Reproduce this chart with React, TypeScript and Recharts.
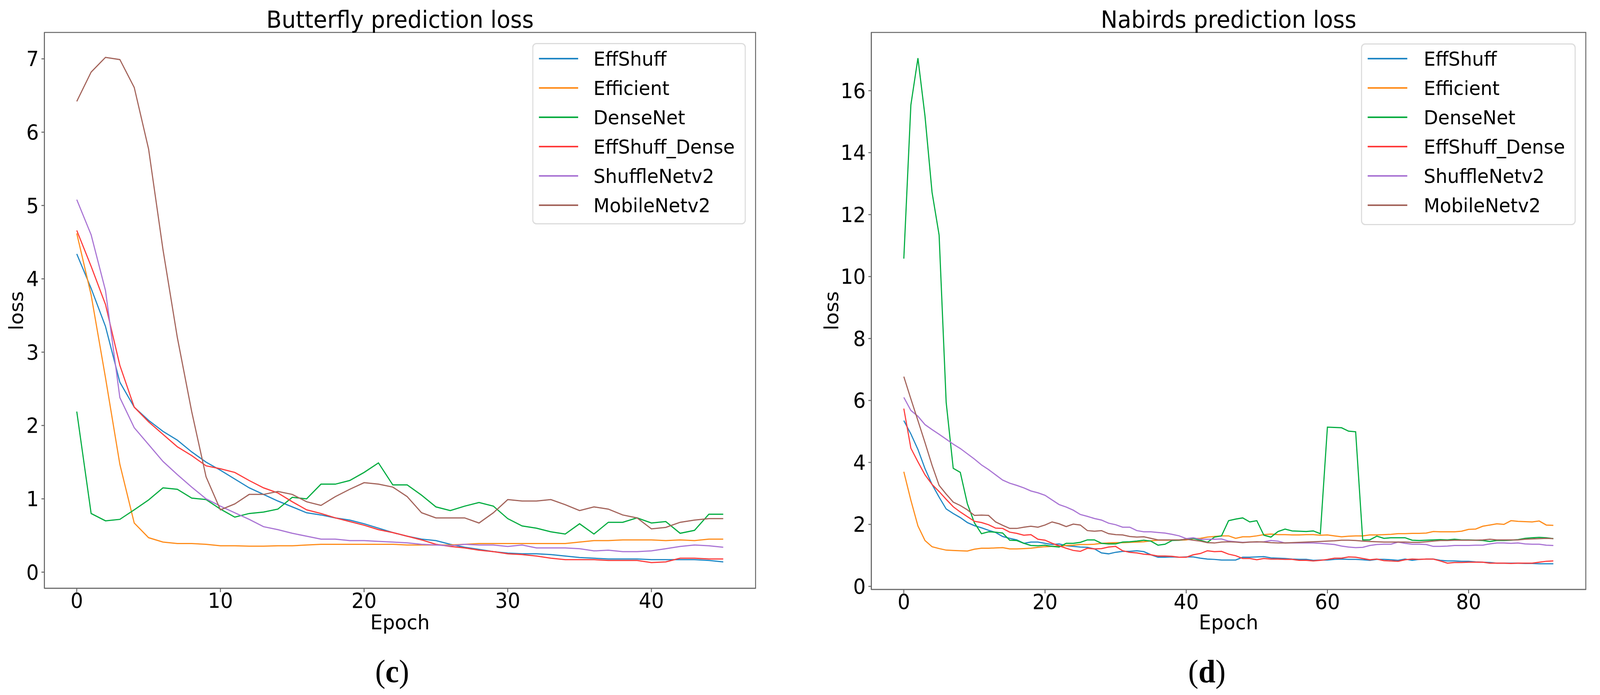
import React from "react";
import { LineChart, Line, XAxis, YAxis, Legend, ReferenceArea } from "recharts";

const seriesNames = ["EffShuff", "Efficient", "DenseNet", "EffShuff_Dense", "ShuffleNetv2", "MobileNetv2"];
const seriesColors = ["#1f86c4", "#ff8c1a", "#00ac3f", "#ff3b3b", "#a974d4", "#a3635a"];

// Butterfly, epochs 0..45
const bfEffShuff = [4.34, 3.87, 3.35, 2.59, 2.25, 2.07, 1.92, 1.8, 1.64, 1.5, 1.39, 1.27, 1.15, 1.06, 0.97, 0.89, 0.81, 0.78, 0.74, 0.71, 0.66, 0.6, 0.54, 0.49, 0.45, 0.43, 0.38, 0.34, 0.31, 0.28, 0.26, 0.25, 0.25, 0.24, 0.22, 0.2, 0.19, 0.18, 0.18, 0.18, 0.17, 0.17, 0.17, 0.17, 0.16, 0.14];
const bfEfficient = [4.62, 3.78, 2.65, 1.47, 0.67, 0.47, 0.41, 0.39, 0.39, 0.38, 0.36, 0.36, 0.355, 0.355, 0.36, 0.36, 0.37, 0.38, 0.38, 0.38, 0.38, 0.38, 0.38, 0.37, 0.37, 0.37, 0.37, 0.38, 0.39, 0.39, 0.39, 0.39, 0.39, 0.39, 0.39, 0.41, 0.43, 0.43, 0.44, 0.44, 0.44, 0.43, 0.44, 0.43, 0.45, 0.45];
const bfDenseNet = [2.19, 0.8, 0.7, 0.72, 0.85, 0.985, 1.15, 1.13, 1.01, 0.99, 0.86, 0.75, 0.8, 0.82, 0.86, 1.02, 1.0, 1.2, 1.2, 1.25, 1.36, 1.49, 1.19, 1.19, 1.05, 0.89, 0.84, 0.9, 0.95, 0.9, 0.73, 0.63, 0.6, 0.55, 0.52, 0.66, 0.52, 0.68, 0.68, 0.74, 0.67, 0.69, 0.53, 0.57, 0.79, 0.79];
const bfEffShuffDense = [4.66, 4.17, 3.65, 2.82, 2.25, 2.05, 1.88, 1.71, 1.59, 1.45, 1.41, 1.36, 1.25, 1.15, 1.08, 0.96, 0.85, 0.8, 0.74, 0.69, 0.64, 0.58, 0.54, 0.49, 0.44, 0.38, 0.35, 0.33, 0.3, 0.28, 0.25, 0.24, 0.22, 0.19, 0.17, 0.17, 0.17, 0.16, 0.16, 0.16, 0.13, 0.14, 0.19, 0.19, 0.18, 0.18];
const bfShuffleNet = [5.08, 4.6, 3.84, 2.38, 1.97, 1.74, 1.51, 1.33, 1.16, 1.0, 0.9, 0.81, 0.72, 0.62, 0.58, 0.53, 0.49, 0.45, 0.45, 0.43, 0.43, 0.42, 0.41, 0.4, 0.38, 0.37, 0.36, 0.38, 0.37, 0.37, 0.35, 0.37, 0.33, 0.33, 0.33, 0.32, 0.29, 0.3, 0.28, 0.28, 0.29, 0.32, 0.35, 0.37, 0.36, 0.34];
const bfMobileNet = [6.42, 6.82, 7.02, 6.99, 6.61, 5.77, 4.4, 3.2, 2.19, 1.3, 0.85, 0.93, 1.06, 1.06, 1.1, 1.06, 0.96, 0.91, 1.03, 1.13, 1.22, 1.2, 1.16, 1.03, 0.81, 0.74, 0.74, 0.74, 0.67, 0.81, 0.99, 0.97, 0.97, 0.99, 0.92, 0.84, 0.89, 0.86, 0.78, 0.74, 0.59, 0.61, 0.68, 0.71, 0.73, 0.73];

// Nabirds, epochs 0..92
const nbEffShuff = [
  5.35, 4.92, 4.42, 3.8, 3.29, 2.88, 2.5, 2.35, 2.22, 2.06,
  1.96, 1.89, 1.81, 1.74, 1.61, 1.55, 1.5, 1.39, 1.43, 1.43,
  1.39, 1.35, 1.37, 1.31, 1.29, 1.27, 1.26, 1.21, 1.08, 1.05,
  1.1, 1.13, 1.13, 1.15, 1.12, 1.02, 0.94, 0.94, 0.95, 0.94,
  0.95, 0.95, 0.91, 0.88, 0.87, 0.85, 0.85, 0.85, 0.94, 0.94,
  0.95, 0.96, 0.92, 0.91, 0.9, 0.88, 0.87, 0.87, 0.84, 0.85,
  0.85, 0.87, 0.88, 0.87, 0.87, 0.86, 0.84, 0.87, 0.87, 0.86,
  0.84, 0.88, 0.84, 0.87, 0.88, 0.88, 0.84, 0.82, 0.82, 0.81,
  0.81, 0.79, 0.78, 0.77, 0.75, 0.75, 0.75, 0.75, 0.74, 0.74,
  0.73, 0.73, 0.73,
];
const nbEfficient = [
  3.7, 2.78, 1.95, 1.48, 1.28, 1.22, 1.17, 1.16, 1.15, 1.14,
  1.2, 1.23, 1.23, 1.24, 1.25, 1.21, 1.21, 1.22, 1.23, 1.26,
  1.28, 1.29, 1.3, 1.32, 1.33, 1.35, 1.35, 1.36, 1.39, 1.4,
  1.41, 1.41, 1.42, 1.43, 1.44, 1.47, 1.49, 1.49, 1.49, 1.49,
  1.5, 1.54, 1.55, 1.59, 1.61, 1.63, 1.63, 1.55, 1.6, 1.6,
  1.63, 1.67, 1.69, 1.67, 1.67, 1.66, 1.66, 1.67, 1.67, 1.65,
  1.66, 1.63, 1.6, 1.62, 1.63, 1.63, 1.66, 1.66, 1.67, 1.68,
  1.7, 1.7, 1.71, 1.71, 1.72, 1.77, 1.76, 1.76, 1.76, 1.78,
  1.84, 1.85, 1.94, 1.98, 2.02, 2.0, 2.12, 2.1, 2.09, 2.08,
  2.11, 1.98, 1.97,
];
const nbDenseNet = [
  10.58, 15.54, 17.05, 15.18, 12.72, 11.34, 5.94, 3.81, 3.68, 2.67,
  2.05, 1.7, 1.76, 1.75, 1.72, 1.49, 1.48, 1.39, 1.32, 1.31,
  1.33, 1.29, 1.27, 1.39, 1.39, 1.42, 1.5, 1.5, 1.39, 1.37,
  1.37, 1.43, 1.44, 1.46, 1.49, 1.46, 1.33, 1.36, 1.48, 1.49,
  1.52, 1.55, 1.49, 1.42, 1.59, 1.63, 2.12, 2.17, 2.21, 2.08,
  2.12, 1.65, 1.59, 1.77, 1.85, 1.79, 1.78, 1.77, 1.79, 1.7,
  5.14, 5.13, 5.12, 5.01, 4.99, 1.5, 1.5, 1.62, 1.55, 1.57,
  1.57, 1.57, 1.49, 1.48, 1.49, 1.5, 1.51, 1.5, 1.52, 1.5,
  1.5, 1.49, 1.48, 1.45, 1.48, 1.48, 1.49, 1.51, 1.55, 1.57,
  1.58, 1.57, 1.54,
];
const nbEffShuffDense = [
  5.74, 4.46, 4.02, 3.6, 3.29, 3.06, 2.81, 2.57, 2.4, 2.25,
  2.1, 2.06, 1.99, 1.88, 1.87, 1.75, 1.71, 1.65, 1.67, 1.52,
  1.49, 1.39, 1.31, 1.23, 1.16, 1.13, 1.23, 1.21, 1.22, 1.27,
  1.29, 1.15, 1.1, 1.08, 1.04, 1.02, 0.98, 0.98, 0.97, 0.94,
  0.94, 1.02, 1.06, 1.15, 1.12, 1.13, 1.04, 0.99, 0.9, 0.9,
  0.86, 0.9, 0.88, 0.88, 0.87, 0.87, 0.84, 0.84, 0.82, 0.84,
  0.87, 0.91, 0.91, 0.95, 0.94, 0.9, 0.86, 0.88, 0.83, 0.82,
  0.81, 0.86, 0.88, 0.87, 0.88, 0.88, 0.82, 0.75, 0.77, 0.77,
  0.78, 0.78, 0.78, 0.75, 0.75, 0.75, 0.74, 0.75, 0.75, 0.75,
  0.78, 0.81, 0.82,
];
const nbShuffleNet = [
  6.1, 5.68, 5.49, 5.22, 5.06, 4.91, 4.75, 4.59, 4.45, 4.28,
  4.11, 3.92, 3.77, 3.6, 3.43, 3.33, 3.26, 3.18, 3.08, 3.02,
  2.94, 2.79, 2.64, 2.56, 2.46, 2.32, 2.26, 2.19, 2.14, 2.04,
  1.99, 1.91, 1.91, 1.8, 1.76, 1.76, 1.74, 1.72, 1.68, 1.63,
  1.54, 1.57, 1.52, 1.52, 1.52, 1.53, 1.46, 1.44, 1.42, 1.43,
  1.43, 1.44, 1.48, 1.46, 1.4, 1.4, 1.4, 1.4, 1.4, 1.39,
  1.37, 1.35, 1.3, 1.27, 1.25, 1.26, 1.32, 1.35, 1.36, 1.36,
  1.43, 1.39, 1.36, 1.36, 1.35, 1.29, 1.29, 1.3, 1.32, 1.32,
  1.32, 1.33, 1.33, 1.37, 1.4, 1.4, 1.39, 1.4, 1.37, 1.36,
  1.36, 1.33, 1.32,
];
const nbMobileNet = [
  6.77, 6.05, 5.35, 4.64, 3.91, 3.26, 2.98, 2.72, 2.61, 2.47,
  2.29, 2.3, 2.29, 2.08, 1.97, 1.87, 1.87, 1.91, 1.94, 1.91,
  1.98, 2.08, 2.02, 1.93, 2.01, 1.98, 1.8, 1.78, 1.8, 1.7,
  1.67, 1.66, 1.61, 1.59, 1.6, 1.55, 1.5, 1.5, 1.5, 1.5,
  1.52, 1.49, 1.46, 1.41, 1.4, 1.43, 1.44, 1.43, 1.41, 1.43,
  1.44, 1.43, 1.41, 1.4, 1.4, 1.41, 1.42, 1.43, 1.44, 1.45,
  1.46, 1.47, 1.49, 1.49, 1.48, 1.46, 1.45, 1.44, 1.43, 1.43,
  1.43, 1.43, 1.42, 1.42, 1.44, 1.46, 1.48, 1.48, 1.49, 1.49,
  1.49, 1.49, 1.5, 1.52, 1.5, 1.5, 1.5, 1.5, 1.52, 1.53,
  1.54, 1.55, 1.54,
];

const bfYTicks = [0, 1, 2, 3, 4, 5, 6, 7];
const bfXTicks = [0, 10, 20, 30, 40];
const nbYTicks = [0, 2, 4, 6, 8, 10, 12, 14, 16];
const nbXTicks = [0, 20, 40, 60, 80];

const FONT = "DejaVu Sans, Verdana, sans-serif";
const FRAME = "#666";
const PAGE_W = 4284;
const PAGE_H = 1778;

function buildRows(series: number[][]) {
  return series[0].map((_, i) => {
    const row: Record<string, number> = { epoch: i };
    seriesNames.forEach((name, k) => {
      row[name] = series[k][i];
    });
    return row;
  });
}

const butterflyRows = buildRows([bfEffShuff, bfEfficient, bfDenseNet, bfEffShuffDense, bfShuffleNet, bfMobileNet]);
const nabirdsRows = buildRows([nbEffShuff, nbEfficient, nbDenseNet, nbEffShuffDense, nbShuffleNet, nbMobileNet]);

function LegendBox({ width, height, first, lineEnd, textX }: any) {
  return (
    <svg width={width} height={height} style={{ display: "block" }}>
      <rect x={1.5} y={1.5} width={width - 3} height={height - 3} rx={10} fill="#fff" fillOpacity={0.8} stroke="#dcdcdc" strokeWidth={3} />
      {seriesNames.map((name, i) => {
        const y = first + i * 75;
        return (
          <g key={name}>
            <line x1={18} x2={lineEnd} y1={y} y2={y} stroke={seriesColors[i]} strokeWidth={4} />
            <text x={textX} y={y} dy="0.36em" fontSize={50} fontFamily={FONT} fill="#000">
              {name}
            </text>
          </g>
        );
      })}
    </svg>
  );
}

function Panel(props: any) {
  const { left, rows, margin, yWidth, xDomain, xTicks, yDomain, yTicks, legend, title, titleX, lossX, tag, tagX } = props;
  const tickStyle = { fontSize: 53, fill: "#000", fontFamily: FONT };
  return (
    <div style={{ position: "absolute", left, top: 0, width: 2142, height: 1778 }}>
      <LineChart width={2142} height={1778} data={rows} margin={margin}>
        <XAxis
          dataKey="epoch"
          type="number"
          domain={xDomain}
          ticks={xTicks}
          allowDataOverflow
          height={120}
          tick={tickStyle}
          tickSize={10}
          tickMargin={2}
          stroke={FRAME}
          axisLine={{ stroke: FRAME, strokeWidth: 2.5 }}
          tickLine={{ stroke: FRAME, strokeWidth: 2.5 }}
        />
        <YAxis
          type="number"
          domain={yDomain}
          ticks={yTicks}
          allowDataOverflow
          width={yWidth}
          tick={tickStyle}
          tickSize={8}
          tickMargin={7}
          stroke={FRAME}
          axisLine={{ stroke: FRAME, strokeWidth: 2.5 }}
          tickLine={{ stroke: FRAME, strokeWidth: 2.5 }}
        />
        <ReferenceArea
          x1={xDomain[0]}
          x2={xDomain[1]}
          y1={yDomain[0]}
          y2={yDomain[1]}
          fill="none"
          stroke={FRAME}
          strokeWidth={2.5}
          ifOverflow="visible"
        />
        {seriesNames.map((name, i) => (
          <Line key={name} type="linear" dataKey={name} stroke={seriesColors[i]} strokeWidth={3} dot={false} activeDot={false} isAnimationActive={false} />
        ))}
        <Legend
          layout="vertical"
          align="center"
          verticalAlign="middle"
          wrapperStyle={{ left: legend.left, top: legend.top, width: legend.width, height: legend.height }}
          content={() => <LegendBox width={legend.width} height={legend.height} first={legend.first} lineEnd={legend.lineEnd} textX={legend.textX} />}
        />
      </LineChart>
      <svg width={2142} height={1778} style={{ position: "absolute", left: 0, top: 0, pointerEvents: "none" }}>
        <text x={titleX} y={71} textAnchor="middle" fontSize={60} fontFamily={FONT} fill="#000">
          {title}
        </text>
        <text x={titleX} y={1610} textAnchor="middle" fontSize={52} fontFamily={FONT} fill="#000">
          Epoch
        </text>
        <text transform={`translate(${lossX},795) rotate(-90)`} textAnchor="middle" fontSize={52} fontFamily={FONT} fill="#000">
          loss
        </text>
        <text x={tagX} y={1745} textAnchor="middle" fontSize={82} fontFamily="Liberation Serif, Times New Roman, serif" fill="#000">
          (<tspan fontWeight="bold">{tag}</tspan>)
        </text>
      </svg>
    </div>
  );
}

export default function App() {
  // fit the fixed 4284x1778 figure into the visible viewport
  const vw = typeof window !== "undefined" ? window.innerWidth : PAGE_W;
  const vh = typeof window !== "undefined" ? window.innerHeight : PAGE_H;
  const sx = Math.min(1, vw / PAGE_W);
  const sy = Math.min(1, vh / PAGE_H);
  return (
    <div
      style={{
        position: "absolute",
        left: 0,
        top: 0,
        width: PAGE_W,
        height: PAGE_H,
        background: "#fff",
        overflow: "hidden",
        transformOrigin: "0 0",
        transform: `scale(${sx}, ${sy})`,
      }}
    >
      <Panel
        left={0}
        rows={butterflyRows}
        margin={{ top: 83, right: 119, bottom: 153, left: 0 }}
        yWidth={119}
        xDomain={[-2.25, 47.25]}
        xTicks={bfXTicks}
        yDomain={[-0.22, 7.36]}
        yTicks={bfYTicks}
        legend={{ left: 1425, top: 110, width: 572, height: 464, first: 40, lineEnd: 123, textX: 164 }}
        title="Butterfly prediction loss"
        titleX={1071}
        lossX={62}
        tag="c"
        tagX={1050}
      />
      <Panel
        left={2142}
        rows={nabirdsRows}
        margin={{ top: 83, right: 38, bottom: 150, left: 0 }}
        yWidth={191}
        xDomain={[-4.6, 96.6]}
        xTicks={nbXTicks}
        yDomain={[-0.1, 17.88]}
        yTicks={nbYTicks}
        legend={{ left: 1502, top: 111, width: 575, height: 465, first: 39, lineEnd: 124, textX: 168 }}
        title="Nabirds prediction loss"
        titleX={1147.5}
        lossX={102}
        tag="d"
        tagX={1089.5}
      />
    </div>
  );
}
